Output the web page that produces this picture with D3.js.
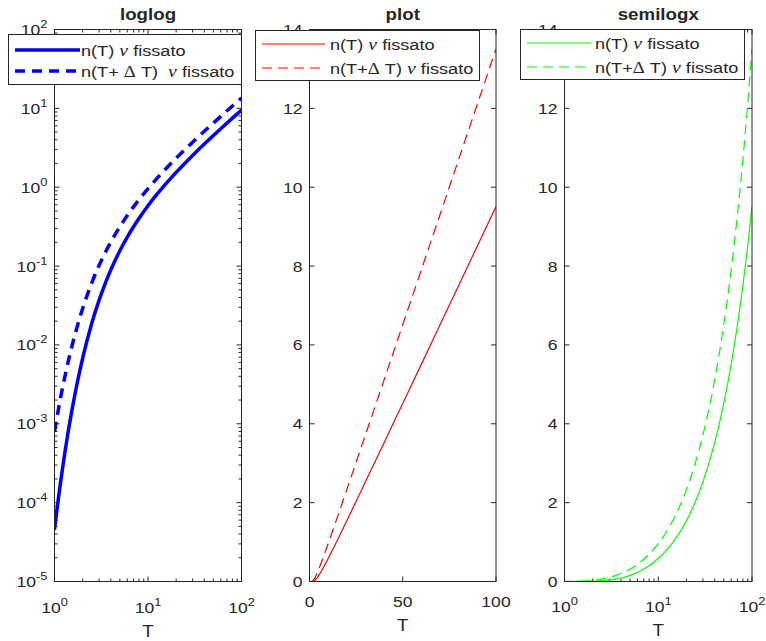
<!DOCTYPE html>
<html>
<head>
<meta charset="utf-8">
<script src="https://cdn.jsdelivr.net/npm/d3@7"></script>
<style>
  html, body { margin: 0; padding: 0; background: #fff; }
  svg { display: block; }
  text { font-family: "Liberation Sans", Arial, Helvetica, sans-serif; fill: #262626; white-space: pre; }
</style>
</head>
<body>
<svg id="chart" width="766" height="641"></svg>
<script>
// Temperatures at which n(T) was evaluated
const T = [1, 1.1, 1.2, 1.3, 1.4, 1.5, 1.75, 2, 2.5, 3, 3.5, 4, 5, 6, 7, 8, 10, 12, 15, 20, 25, 30, 40, 50, 60, 70, 80, 90, 100];

// n(T) at fixed nu
const nT = [4.54e-5, 1.13e-4, 2.40e-4, 4.56e-4, 7.91e-4, 1.27e-3, 3.31e-3, 6.78e-3, 0.0187, 0.0370, 0.0609, 0.0894,
  0.1565, 0.233, 0.3151, 0.401, 0.582, 0.769, 1.055, 1.541, 2.033, 2.528, 3.521, 4.517, 5.513, 6.512, 7.510, 8.509, 9.508];

// n(T + dT) at fixed nu
const nTdT = [7.91e-4, 1.514e-3, 2.61e-3, 4.12e-3, 6.12e-3, 8.62e-3, 0.0171, 0.0289, 0.0609, 0.1022, 0.1493, 0.2014,
  0.3151, 0.4369, 0.5637, 0.6935, 0.9589, 1.229, 1.640, 2.330, 3.024, 3.720, 5.114, 6.512, 7.910, 9.308, 10.707, 12.106, 13.506];

const panelTitles = ["loglog", "plot", "semilogx"];
const seriesColors = ["#0000ff", "#ff0000", "#00ff00"];
const linTicksY = [0, 2, 4, 6, 8, 10, 12, 14];
const linTicksX = [0, 50, 100];
const logTicksX = [1, 10, 100];
const logTicksY = [1e-5, 1e-4, 1e-3, 1e-2, 1e-1, 1e0, 1e1, 1e2];

const svg = d3.select("#chart");
const AX = "#262626";
const SX = 1.17;          // horizontal text stretch
const yTop = 29.5, yBot = 581.5;
const panels = [
  { x0: 54.5, x1: 241.5 },
  { x0: 309.5, x1: 496 },
  { x0: 564.5, x1: 752 }
];

function label(g, x, y, parts, opts) {
  opts = opts || {};
  const t = g.append("text")
    .attr("transform", `translate(${x},${y}) scale(${SX},1)`)
    .attr("text-anchor", opts.anchor || "middle")
    .attr("xml:space", "preserve")
    .style("font-size", (opts.size || 15) + "px")
    .style("font-weight", opts.weight || "normal");
  parts.forEach(p => {
    const s = t.append("tspan").text(p.t);
    if (p.dy) s.attr("dy", p.dy);
    if (p.size) s.style("font-size", p.size + "px");
    if (p.family) s.style("font-family", p.family);
    if (p.italic) s.style("font-style", "italic");
  });
  return t;
}

function pow10(e) {
  return [{ t: "10" }, { t: String(e), dy: -7, size: 11 }];
}

function minorLogTicks(domain) {
  const out = [];
  for (let d = Math.log10(domain[0]); d < Math.log10(domain[1]); d++) {
    for (let k = 2; k <= 9; k++) out.push(k * Math.pow(10, d));
  }
  return out;
}

function drawPanel(i, xs, ys, xMajor, yMajor, xMinor, yMinor, xFmt, yFmt, xLabY, lineW, dash) {
  const p = panels[i];
  const g = svg.append("g");
  const clipId = "clip" + i;
  svg.append("clipPath").attr("id", clipId)
    .append("rect").attr("x", p.x0).attr("y", yTop).attr("width", p.x1 - p.x0).attr("height", yBot - yTop);

  // ticks (inward, mirrored on opposite sides)
  const tk = g.append("g").attr("stroke", AX).attr("stroke-width", 1);
  const major = 5, minor = 3;
  xMajor.forEach(v => {
    const x = xs(v);
    tk.append("line").attr("x1", x).attr("x2", x).attr("y1", yBot).attr("y2", yBot - major);
    tk.append("line").attr("x1", x).attr("x2", x).attr("y1", yTop).attr("y2", yTop + major);
  });
  xMinor.forEach(v => {
    const x = xs(v);
    tk.append("line").attr("x1", x).attr("x2", x).attr("y1", yBot).attr("y2", yBot - minor);
    tk.append("line").attr("x1", x).attr("x2", x).attr("y1", yTop).attr("y2", yTop + minor);
  });
  yMajor.forEach(v => {
    const y = ys(v);
    tk.append("line").attr("x1", p.x0).attr("x2", p.x0 + major).attr("y1", y).attr("y2", y);
    tk.append("line").attr("x1", p.x1).attr("x2", p.x1 - major).attr("y1", y).attr("y2", y);
  });
  yMinor.forEach(v => {
    const y = ys(v);
    tk.append("line").attr("x1", p.x0).attr("x2", p.x0 + minor).attr("y1", y).attr("y2", y);
    tk.append("line").attr("x1", p.x1).attr("x2", p.x1 - minor).attr("y1", y).attr("y2", y);
  });

  // tick labels
  xMajor.forEach(v => label(g, xs(v), xLabY, xFmt(v), { size: 15 }));
  yMajor.forEach(v => label(g, p.x0 - 7, ys(v) + 5.5, yFmt(v), { size: 15, anchor: "end" }));

  // axis label + title
  label(g, (p.x0 + p.x1) / 2, xLabY + 24, [{ t: "T" }], { size: 16 });
  label(g, (p.x0 + p.x1) / 2, 20, [{ t: panelTitles[i] }], { size: 16, weight: "bold" });

  // curves
  const line = d3.line().x((d, j) => xs(T[j])).y(d => ys(d)).curve(d3.curveMonotoneX);
  const cg = g.append("g").attr("clip-path", `url(#${clipId})`).attr("fill", "none");
  cg.append("path").attr("d", line(nT)).attr("stroke", seriesColors[i]).attr("stroke-width", lineW);
  cg.append("path").attr("d", line(nTdT)).attr("stroke", seriesColors[i]).attr("stroke-width", lineW)
    .attr("stroke-dasharray", dash);

  // box
  g.append("rect").attr("x", p.x0).attr("y", yTop).attr("width", p.x1 - p.x0).attr("height", yBot - yTop)
    .attr("fill", "none").attr("stroke", AX).attr("stroke-width", 1);
  return g;
}

// loglog
const x0s = d3.scaleLog().domain([1, 100]).range([panels[0].x0, panels[0].x1]);
const y0s = d3.scaleLog().domain([1e-5, 1e2]).range([yBot, yTop]);
drawPanel(0, x0s, y0s, logTicksX, logTicksY, minorLogTicks([1, 100]), minorLogTicks([1e-5, 1e2]),
  v => pow10(Math.round(Math.log10(v))), v => pow10(Math.round(Math.log10(v))), 613, 3.5, "10,7");

// plot
const x1s = d3.scaleLinear().domain([0, 100]).range([panels[1].x0, panels[1].x1]);
const y1s = d3.scaleLinear().domain([0, 14]).range([yBot, yTop]);
drawPanel(1, x1s, y1s, linTicksX, linTicksY, [], [],
  v => [{ t: String(v) }], v => [{ t: String(v) }], 607, 1.2, "10,6");

// semilogx
const x2s = d3.scaleLog().domain([1, 100]).range([panels[2].x0, panels[2].x1]);
const y2s = d3.scaleLinear().domain([0, 14]).range([yBot, yTop]);
drawPanel(2, x2s, y2s, logTicksX, linTicksY, minorLogTicks([1, 100]), [],
  v => pow10(Math.round(Math.log10(v))), v => [{ t: String(v) }], 612, 1.2, "10,6");

// legends
const nu = { t: "ν", family: "Liberation Serif", italic: true, size: 17 };
const delta = { t: "Δ", family: "Liberation Serif", size: 16 };
const legends = [
  { x0: 8.5, x1: 241.5, y0: 34.5, y1: 84.5, rows: [50, 71], lx0: 15, lx1: 80, tx: 81, w: 3.5, dash: "10,7",
    labels: [
      [{ t: "n(T) " }, nu, { t: " fissato" }],
      [{ t: "n(T+ " }, delta, { t: " T)  " }, nu, { t: " fissato" }]
    ] },
  { x0: 255.5, x1: 479.5, y0: 30.5, y1: 80.5, rows: [44, 68], lx0: 262, lx1: 325, tx: 330, w: 1.2, dash: "10,6",
    labels: [
      [{ t: "n(T) " }, nu, { t: " fissato" }],
      [{ t: "n(T+" }, delta, { t: " T) " }, nu, { t: " fissato" }]
    ] },
  { x0: 520.5, x1: 744.5, y0: 29.5, y1: 79.5, rows: [43, 67], lx0: 527, lx1: 591, tx: 595, w: 1.2, dash: "10,6",
    labels: [
      [{ t: "n(T) " }, nu, { t: " fissato" }],
      [{ t: "n(T+" }, delta, { t: " T) " }, nu, { t: " fissato" }]
    ] }
];

legends.forEach((L, i) => {
  const g = svg.append("g");
  g.append("rect").attr("x", L.x0).attr("y", L.y0).attr("width", L.x1 - L.x0).attr("height", L.y1 - L.y0)
    .attr("fill", "#fff").attr("stroke", AX).attr("stroke-width", 1);
  L.rows.forEach((ry, r) => {
    g.append("line").attr("x1", L.lx0).attr("x2", L.lx1).attr("y1", ry).attr("y2", ry)
      .attr("stroke", seriesColors[i]).attr("stroke-width", L.w)
      .attr("stroke-dasharray", r === 1 ? L.dash : null);
    label(g, L.tx, ry + 5.5, L.labels[r], { size: 15.5, anchor: "start" });
  });
});
</script>
</body>
</html>
